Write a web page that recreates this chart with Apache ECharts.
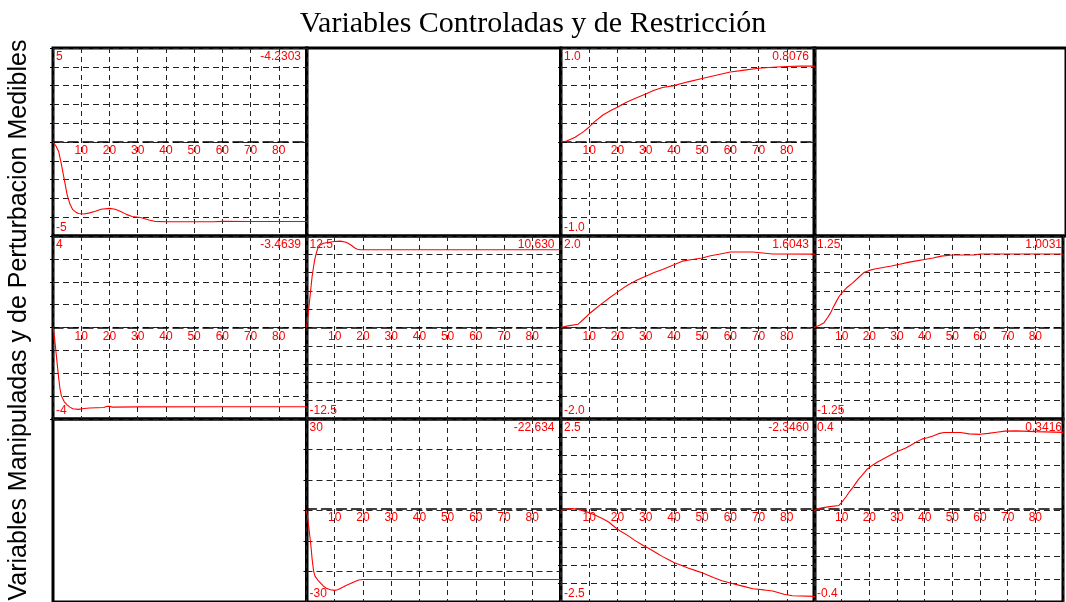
<!DOCTYPE html>
<html>
<head>
<meta charset="utf-8">
<script src="https://cdn.jsdelivr.net/npm/echarts@6/dist/echarts.min.js"></script>
<style>
  html, body { margin: 0; padding: 0; background: #fff; }
  #chart { width: 1066px; height: 602px; }
</style>
</head>
<body>
<div id="chart"></div>
<script>
// step responses, [time, value]
const r1c1 = [[0,0],[1,-0.2],[2,-0.5],[3,-1.2],[4,-2.0],[5,-2.8],[6,-3.3],[7,-3.6],[8,-3.72],[9,-3.8],[11,-3.83],[13,-3.77],[15,-3.68],[17,-3.58],[20,-3.53],[22,-3.58],[24,-3.7],[26,-3.85],[28,-3.96],[31,-4.02],[34,-4.15],[36,-4.22],[40,-4.24],[57,-4.24],[60,-4.22],[70,-4.23],[80,-4.23],[90,-4.2303]]
const r1c3 = [[0,0],[2,0.01],[5,0.05],[8,0.11],[10,0.16],[12,0.22],[15,0.29],[18,0.34],[20,0.37],[23,0.42],[26,0.46],[30,0.51],[33,0.55],[36,0.58],[40,0.6],[45,0.64],[50,0.675],[55,0.71],[60,0.745],[65,0.765],[70,0.785],[75,0.795],[80,0.803],[85,0.807],[90,0.8076]]
const r2c1 = [[0,0],[0.5,-0.4],[1,-1.0],[1.5,-1.6],[2,-2.2],[2.5,-2.7],[3,-3.0],[4,-3.25],[5,-3.38],[6,-3.48],[7,-3.55],[9,-3.58],[11,-3.54],[13,-3.52],[18,-3.5],[19,-3.45],[20,-3.44],[21,-3.48],[30,-3.47],[60,-3.465],[90,-3.4639]]
const r2c2 = [[0,0],[0.5,1.5],[1,3.3],[1.5,5.2],[2,7],[2.5,8.3],[3,9.4],[3.5,10.2],[4,10.8],[5,11.3],[6,11.5],[8,11.65],[10,11.75],[12,11.8],[14,11.65],[15,11.45],[16,11.2],[17,10.9],[18,10.7],[19,10.63],[90,10.63]]
const r2c3 = [[0,0],[2,0.03],[6,0.07],[8,0.18],[10,0.3],[12,0.4],[14,0.5],[17,0.64],[19,0.73],[22,0.86],[24,0.94],[27,1.04],[30,1.12],[33,1.2],[36,1.27],[40,1.37],[43,1.45],[46,1.48],[50,1.52],[53,1.57],[56,1.6],[60,1.65],[68,1.65],[75,1.605],[90,1.6043]]
const r2c4 = [[0,0],[2,0.03],[3.5,0.06],[5,0.14],[6,0.2],[7,0.28],[8,0.35],[9,0.42],[10,0.47],[12,0.55],[14,0.61],[16,0.68],[18,0.75],[20,0.78],[22,0.8],[25,0.82],[28,0.84],[31,0.865],[34,0.89],[37,0.91],[40,0.93],[43,0.95],[46,0.975],[50,0.99],[58,0.99],[60,1.0031],[90,1.0031]]
const r3c2 = [[0,0],[0.5,-3],[1,-7],[1.5,-11],[2,-16],[2.5,-19.8],[3,-21.5],[4,-22.8],[5,-23.8],[6,-24.8],[7,-25.5],[8.5,-26],[10,-26.2],[11,-26],[12.5,-25.3],[14,-24.6],[15,-24.2],[17,-23.4],[18.5,-22.8],[20,-22.634],[90,-22.634]]
const r3c3 = [[0,0],[2,0.04],[4,0.05],[6,0.03],[8,-0.01],[10,-0.06],[12,-0.12],[15,-0.23],[17,-0.32],[19,-0.45],[21,-0.56],[24,-0.7],[26,-0.81],[29,-0.95],[31,-1.03],[34,-1.17],[36,-1.26],[38,-1.34],[40,-1.42],[43,-1.51],[45,-1.57],[48,-1.65],[50,-1.7],[54,-1.83],[57,-1.92],[60,-1.98],[64,-2.06],[68,-2.14],[72,-2.17],[75,-2.2],[79,-2.29],[82,-2.33],[90,-2.346]]
const r3c4 = [[0,0],[2,0.01],[5,0.016],[9,0.022],[10,0.035],[11.5,0.059],[13,0.085],[14,0.1],[16,0.135],[17.5,0.156],[19,0.178],[21,0.197],[23,0.212],[25.5,0.228],[28,0.245],[30.5,0.26],[33,0.272],[35,0.285],[37,0.3],[39,0.312],[41,0.318],[43,0.326],[45,0.336],[47,0.341],[53,0.341],[56,0.335],[60,0.333],[63,0.337],[66,0.342],[69,0.347],[73,0.348],[80,0.345],[90,0.3416]]

const series_data = [r1c1, r1c3, r2c1, r2c2, r2c3, r2c4, r3c2, r3c3, r3c4]
const cells = [[0,0],[0,2],[1,0],[1,1],[1,2],[1,3],[2,1],[2,2],[2,3]]
const emptyCells = [[0,1],[0,3],[2,0]]

const yMax = [5, 1, 4, 12.5, 2, 1.25, 30, 2.5, 0.4]
const yStep = [1, 0.2, 1, 2.5, 0.5, 0.25, 10, 0.5, 0.1]
const yMaxLabels = ['5', '1.0', '4', '12.5', '2.0', '1.25', '30', '2.5', '0.4']
const yMinLabels = ['-5', '-1.0', '-4', '-12.5', '-2.0', '-1.25', '-30', '-2.5', '-0.4']
const xTicks = [10, 20, 30, 40, 50, 60, 70, 80]

const titleText = 'Variables Controladas y de Restricción'
const sideText = 'Variables Manipuladas y de Perturbacion Medibles'

const colLeft = [53, 306.5, 561, 814]
const colWidth = 254
const rowTop = [48, 236, 419]
const rowHeight = [188, 183, 186]

const RED = '#ff0000'
const FONT = 'Liberation Sans'
const GRIDLINE = '#222'

const fmt = (v) => v.toFixed(Math.abs(v) >= 10 ? 3 : 4)
const same = (a, b) => Math.abs(a - b) < 1e-9

const chart = echarts.init(document.getElementById('chart'))

const grid = []
const xAxis = []
const yAxis = []
const series = []
const graphic = []

function cellRect(r, c) {
  return { left: colLeft[c], top: rowTop[r], width: colWidth, height: rowHeight[r] }
}

cells.forEach(([r, c], i) => {
  const rect = cellRect(r, c)
  const yi = yAxis.length
  grid.push({ ...rect, show: true, borderColor: '#000', borderWidth: 3, backgroundColor: 'transparent' })
  // symmetric y range, so the middle of the cell is y = 0
  xAxis.push({
    type: 'value', gridIndex: i, min: 0, max: 90, interval: 10, position: 'bottom',
    offset: -rect.height / 2,
    axisLine: { show: true, onZero: false, lineStyle: { color: '#000', width: 1.5, type: [10, 5] } },
    axisTick: { show: false },
    axisLabel: {
      color: RED, fontFamily: FONT, fontSize: 12, margin: 3,
      formatter: (v) => xTicks.includes(v) ? String(v) : ''
    },
    splitLine: { show: true, lineStyle: { color: GRIDLINE, width: 1, type: [5, 4] } }
  })
  yAxis.push({
    type: 'value', gridIndex: i, position: 'left', min: -yMax[i], max: yMax[i], interval: yStep[i],
    axisLine: { show: false },
    axisTick: { show: true, length: 3, lineStyle: { color: '#000' } },
    axisLabel: {
      inside: true, margin: 3, color: RED, fontFamily: FONT, fontSize: 12,
      verticalAlign: 'top', padding: [3, 0, 0, 0],
      formatter: (v) => same(v, yMax[i]) ? yMaxLabels[i] : ''
    },
    splitLine: { show: true, lineStyle: { color: GRIDLINE, width: 1, type: [6, 4] } }
  })
  yAxis.push({
    type: 'value', gridIndex: i, position: 'left', offset: 0, min: -yMax[i], max: yMax[i], interval: yStep[i],
    axisLine: { show: false }, axisTick: { show: false }, splitLine: { show: false },
    axisLabel: {
      inside: true, margin: 3, color: RED, fontFamily: FONT, fontSize: 12,
      verticalAlign: 'bottom', padding: [0, 0, 2, 0],
      formatter: (v) => same(v, -yMax[i]) ? yMinLabels[i] : ''
    }
  })
  const data = series_data[i]
  series.push({
    type: 'line', xAxisIndex: i, yAxisIndex: yi, data,
    showSymbol: false, symbol: 'none', smooth: false,
    lineStyle: { color: RED, width: 1.1 }, z: 3
  })
  graphic.push({
    type: 'text', x: rect.left + rect.width - 6, y: rect.top + 3, z: 10,
    style: {
      text: fmt(data[data.length - 1][1]), fill: RED, font: '12px "' + FONT + '"',
      textAlign: 'right', textVerticalAlign: 'top', align: 'right', verticalAlign: 'top'
    }
  })
})

emptyCells.forEach(([r, c]) => {
  const gi = grid.length
  grid.push({ ...cellRect(r, c), show: true, borderColor: '#000', borderWidth: 3, backgroundColor: 'transparent' })
  xAxis.push({ type: 'value', gridIndex: gi, min: 0, max: 90, show: false })
  yAxis.push({ type: 'value', gridIndex: gi, min: -1, max: 1, show: false })
})

graphic.push({
  type: 'text', x: 19, y: 320, rotation: Math.PI / 2,
  style: {
    text: sideText, fill: '#000', font: '25px "' + FONT + '"',
    textAlign: 'center', textVerticalAlign: 'middle', align: 'center', verticalAlign: 'middle'
  }
})

chart.setOption({
  animation: false,
  title: {
    text: titleText, left: 'center', top: 4,
    textStyle: { fontFamily: 'Liberation Serif', fontSize: 30, fontWeight: 'normal', color: '#000' }
  },
  grid,
  xAxis,
  yAxis,
  series,
  graphic
})
</script>
</body>
</html>
